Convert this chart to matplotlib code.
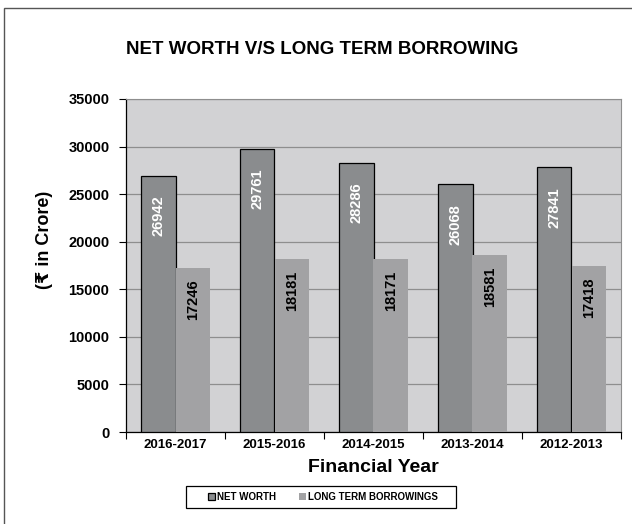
import numpy as np
import matplotlib.pyplot as plt
from matplotlib.patches import Rectangle

plt.rcParams['font.family'] = ['Liberation Sans', 'DejaVu Sans']

years = ['2016-2017', '2015-2016', '2014-2015', '2013-2014', '2012-2013']
net_worth = [26942, 29761, 28286, 26068, 27841]
long_term = [17246, 18181, 18171, 18581, 17418]

fig = plt.figure(figsize=(6.32, 5.24), dpi=100)
ax = fig.add_axes([126 / 632, 1 - 432 / 524, (621 - 126) / 632, (432 - 99) / 524])

x = np.arange(len(years))
w = 0.35
b1 = ax.bar(x - w / 2, net_worth, w, color='#8a8c8e', edgecolor='black', linewidth=0.9,
            label='NET WORTH', zorder=3)
b2 = ax.bar(x + w / 2, long_term, w, color='#a2a2a4', edgecolor='none',
            label='LONG TERM BORROWINGS', zorder=3)

# value labels inside the bars
for rect, v in zip(b1, net_worth):
    ax.annotate(str(v), (rect.get_x() + rect.get_width() / 2, v), xytext=(0, -29),
                textcoords='offset points', rotation=90, ha='center', va='center',
                color='white', fontsize=10.5, fontweight='bold', zorder=4)
for rect, v in zip(b2, long_term):
    ax.annotate(str(v), (rect.get_x() + rect.get_width() / 2, v), xytext=(0, -23),
                textcoords='offset points', rotation=90, ha='center', va='center',
                color='black', fontsize=10.5, fontweight='bold', zorder=4)

ax.set_facecolor('#d2d2d4')
ax.set_xlim(-0.5, len(years) - 0.5)
ax.set_ylim(0, 35000)
ax.set_yticks(range(0, 35001, 5000))
ax.yaxis.grid(True, color='#8e8e8e', linewidth=0.9, zorder=0)
ax.set_axisbelow(True)

ax.set_xticks(x)
ax.set_xticklabels(years, fontsize=9.5, fontweight='bold')
ax.tick_params(axis='x', length=0, pad=5)
ax.set_xticks(np.arange(-0.5, len(years)), minor=True)
ax.tick_params(axis='x', which='minor', length=5, width=0.8, direction='out')
ax.tick_params(axis='y', length=5, width=0.8, direction='out', labelsize=10.5, pad=7)
for lab in ax.get_yticklabels():
    lab.set_fontweight('bold')

for s in ['top', 'right']:
    ax.spines[s].set_color('#8e8e8e')
for s in ['left', 'bottom']:
    ax.spines[s].set_color('black')
    ax.spines[s].set_linewidth(0.9)

ax.set_xlabel('Financial Year', fontsize=14, fontweight='bold', labelpad=6)
ax.set_ylabel('(₹ in Crore)', fontsize=13, fontweight='bold')
ax.yaxis.set_label_coords(-0.147, 0.577)

fig.text(322 / 632, 1 - 50 / 524, 'NET WORTH V/S LONG TERM BORROWING', ha='center', va='center',
         fontsize=13.5, fontweight='bold')

leg = fig.legend(handles=[b1, b2], loc='center', bbox_to_anchor=(323 / 632, 1 - 497 / 524),
                 ncol=2, frameon=False, handlelength=0.7, handleheight=0.7,
                 handletextpad=0.2, columnspacing=2.4, borderaxespad=0,
                 prop={'weight': 'bold', 'size': 7})
# legend box drawn separately (wider padding than the legend frame allows)
fig.patches.append(Rectangle((186 / 632, 1 - 508 / 524), (456 - 186) / 632, 22 / 524,
                             transform=fig.transFigure, fill=False, edgecolor='black',
                             linewidth=0.9))

# outer chart border (only left and top visible in the crop)
fig.patches.append(Rectangle((4 / 632, -0.1), 1.2, 1 - 8 / 524 + 0.1, transform=fig.transFigure,
                             fill=False, edgecolor='#555555', linewidth=1))

fig.savefig('out.png', dpi=100)
